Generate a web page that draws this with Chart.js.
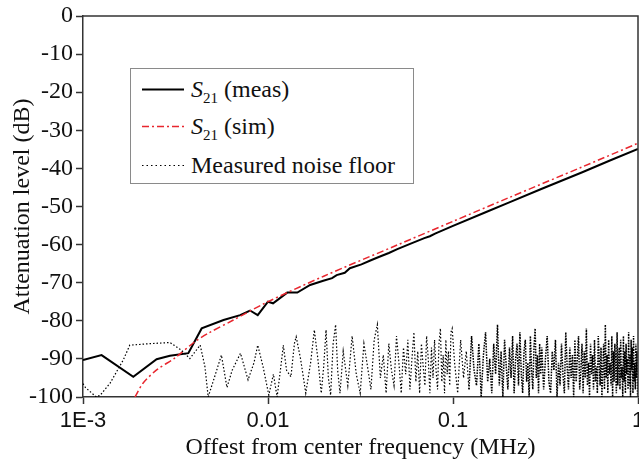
<!DOCTYPE html>
<html>
<head>
<meta charset="utf-8">
<script src="https://cdn.jsdelivr.net/npm/chart.js@4.4.1/dist/chart.umd.min.js"></script>
<style>
  html, body { margin: 0; padding: 0; background: #fff; overflow: hidden; }
  #wrap { position: relative; width: 639px; height: 466px; overflow: hidden; }
  #plot { position: absolute; left: 0; top: 0; }
  .legend { position: absolute; left: 130px; top: 68px; width: 282px; height: 114px;
            border: 1px solid #8a8a8a; background: #fff; color: #111;
            font-family: "Liberation Serif", "Times New Roman", serif; font-size: 24px; }
  .legend .row { position: absolute; left: 0; height: 30px; line-height: 30px; white-space: nowrap; }
  .legend svg { position: absolute; left: 11px; top: 14px; }
  .legend .t { position: absolute; left: 60px; top: 0; }
  .legend sub { font-size: 15px; vertical-align: -6px; line-height: 0; }
</style>
</head>
<body>
<div id="wrap">
  <canvas id="plot" width="660" height="466"></canvas>
  <div class="legend">
    <div class="row" style="top:5px">
      <svg width="42" height="3"><line x1="0" y1="1.5" x2="42" y2="1.5" stroke="#000" stroke-width="2"/></svg>
      <span class="t"><i>S</i><sub>21</sub> (meas)</span>
    </div>
    <div class="row" style="top:42px">
      <svg width="42" height="3"><line x1="0" y1="1.5" x2="42" y2="1.5" stroke="#e8262e" stroke-width="1.5" stroke-dasharray="7,3,2,3"/></svg>
      <span class="t"><i>S</i><sub>21</sub> (sim)</span>
    </div>
    <div class="row" style="top:81px">
      <svg width="42" height="3"><line x1="0" y1="1.5" x2="42" y2="1.5" stroke="#000" stroke-width="1" stroke-dasharray="1.5,3"/></svg>
      <span class="t">Measured noise floor</span>
    </div>
  </div>
</div>
<script>
  // axes
  const xTickValues = [0.001, 0.01, 0.1, 1];
  const xTickLabels = ['1E-3', '0.01', '0.1', '1'];
  const yMin = -100, yMax = 0, yStep = 10, yMinorStep = 5;

  // S21 measured
  const measFreq = [0.001, 0.00126, 0.00187, 0.0025, 0.00295, 0.00371, 0.00438, 0.00575, 0.00707, 0.008,
    0.0088, 0.01, 0.01065, 0.0127, 0.0144, 0.0169, 0.0199, 0.0222, 0.0235, 0.026, 0.0277, 0.032, 0.036,
    0.04, 0.045, 0.05, 0.06, 0.07, 0.075, 0.08, 0.1, 0.15, 0.2, 0.3, 0.5, 0.7, 1];
  const measLevel = [-90.3, -89.0, -94.7, -90.1, -89.2, -88.5, -82.0, -79.8, -78.5, -77.3,
    -78.5, -75.0, -75.4, -72.6, -72.6, -70.6, -69.5, -68.8, -68.0, -67.4, -66.2, -65.2, -64.1,
    -63.2, -62.2, -61.2, -59.6, -58.3, -57.8, -57.1, -55.1, -51.5, -49.0, -45.4, -41.0, -38.0, -34.9];

  // S21 simulated
  const simFreq = [0.00191, 0.00211, 0.0025, 0.00313, 0.00402, 0.00474, 0.0065, 0.0098, 0.02, 0.05, 0.1, 0.2, 0.5, 1];
  const simLevel = [-100, -96.4, -92.9, -89.8, -85.5, -83.3, -79.8, -75.2, -68.3, -60.1, -53.9, -47.7, -39.6, -33.4];

  // measured noise floor
  const noiseFreq = [
    0.001, 0.00103, 0.00118, 0.00124, 0.0014, 0.00165, 0.00179, 0.0023, 0.00295, 0.0034,
    0.00378, 0.0043, 0.00456, 0.00475, 0.0052, 0.0056, 0.006, 0.0064, 0.0071, 0.0078,
    0.0084, 0.0088, 0.0094, 0.0101, 0.0107, 0.0112, 0.0118, 0.0121, 0.0126, 0.0133,
    0.0139, 0.0142, 0.015, 0.016, 0.017, 0.0178, 0.0186, 0.0194, 0.02, 0.0206,
    0.0212, 0.0218, 0.0225, 0.0232, 0.0238, 0.0245,
    0.0255, 0.027, 0.0285, 0.030, 0.0315, 0.033, 0.0345, 0.036, 0.0375, 0.039,
    0.0405, 0.042, 0.0435, 0.045, 0.0465, 0.048, 0.0495, 0.051, 0.0525, 0.054,
    0.0555, 0.057, 0.0585, 0.060, 0.0615, 0.063, 0.0645, 0.066, 0.0675, 0.069,
    0.0705, 0.072, 0.0735, 0.075, 0.0765, 0.078, 0.0795, 0.081, 0.0825, 0.084,
    0.0855, 0.087, 0.0885, 0.090, 0.0915, 0.093, 0.0945, 0.096, 0.0975, 0.099,
    0.102, 0.106, 0.110, 0.114, 0.118, 0.122, 0.126, 0.130, 0.134, 0.138,
    0.142, 0.146, 0.150, 0.154, 0.158, 0.162, 0.166, 0.170, 0.174, 0.178,
    0.182, 0.186, 0.190, 0.194, 0.198, 0.202, 0.206, 0.210, 0.214, 0.218,
    0.222, 0.226, 0.230, 0.234, 0.238, 0.242, 0.246, 0.250, 0.254, 0.258,
    0.262, 0.266, 0.270, 0.274, 0.278, 0.282, 0.286, 0.290, 0.294, 0.298,
    0.302, 0.309, 0.316, 0.323, 0.330, 0.337, 0.344, 0.351, 0.358, 0.365,
    0.372, 0.379, 0.386, 0.393, 0.400, 0.407, 0.414, 0.421, 0.428, 0.435,
    0.442, 0.449, 0.456, 0.463, 0.470, 0.477, 0.484, 0.491, 0.498, 0.505,
    0.512, 0.519, 0.526, 0.533, 0.540, 0.547, 0.554, 0.561, 0.568, 0.575,
    0.582, 0.589, 0.596, 0.603, 0.610, 0.617, 0.624, 0.631, 0.638, 0.645,
    0.652, 0.659, 0.666, 0.673, 0.680, 0.687, 0.694, 0.701, 0.708, 0.715,
    0.722, 0.729, 0.736, 0.743, 0.750, 0.757, 0.764, 0.771, 0.778, 0.785,
    0.792, 0.799, 0.806, 0.813, 0.820, 0.827, 0.834, 0.841, 0.848, 0.855,
    0.862, 0.869, 0.876, 0.883, 0.890, 0.897, 0.904, 0.911, 0.918, 0.925,
    0.932, 0.939, 0.946, 0.953, 0.960, 0.967, 0.974, 0.981, 0.988, 0.995];
  const noiseLevel = [
    -96.5, -97.5, -100, -99.5, -96.4, -90.3, -86.4, -86.0, -85.7, -87.7,
    -89.9, -86.4, -92, -100, -94, -89, -97.5, -93, -88.5, -95.5,
    -91, -86.4, -92, -99.5, -94, -100, -91, -86.4, -93, -94.7,
    -85.9, -84.2, -90, -99, -91, -82.4, -90, -99, -92, -82.4,
    -95, -99.5, -86, -81, -93, -99,
    -88, -97, -84, -94, -99, -86, -92, -98, -85, -81,
    -95, -89, -99, -86, -93, -97, -84, -91, -99, -87,
    -94, -85, -98, -90, -83, -96, -88, -99, -86, -92,
    -97, -84, -90, -99, -87, -95, -85, -93, -98, -86,
    -82, -96, -89, -99, -85, -94, -88, -97, -83, -82,
    -91, -99, -85, -95, -88, -98, -84, -93, -97, -86,
    -100, -89, -83, -96, -90, -99, -86, -94, -81, -97,
    -88, -100, -85, -92, -98, -87, -95, -84, -99, -90,
    -86, -97, -83, -94, -99, -88, -85, -96, -91, -100,
    -84, -93, -98, -87, -82, -95, -89, -99, -86, -94,
    -87, -98, -90, -84, -96, -99, -88, -93, -85, -100,
    -91, -97, -86, -94, -99, -83, -92, -98, -87, -95,
    -89, -100, -85, -96, -90, -84, -98, -93, -86, -99,
    -88, -95, -82, -97, -91, -100, -86, -94, -89, -98,
    -85, -96, -92, -99, -84, -90, -97, -87, -100, -93,
    -86, -98, -81, -95, -89, -99, -85, -94, -91, -97,
    -84, -100, -88, -96, -86, -93, -99, -83, -97, -90,
    -87, -98, -85, -95, -92, -100, -84, -96, -88, -99,
    -86, -94, -90, -98, -83, -97, -89, -100, -85, -93,
    -87, -99, -84, -96, -91, -98, -86, -95, -88, -100];

  const axisColor = '#333';
  const serif = '"Liberation Serif", "Times New Roman", serif';
  const sans = '"Liberation Sans", Arial, sans-serif';

  const pts = (xs, ys) => xs.map((x, i) => ({ x: x, y: ys[i] }));
  const noPad = s => { s.paddingLeft = 0; s.paddingRight = 0; s.paddingTop = 0; s.paddingBottom = 0; };
  // the noise trace looks heavier where the sweep gets dense
  const dense = c => c.p0.parsed.x > 0.12;

  // top and right border of the plot box
  const frame = {
    id: 'frame',
    afterDatasetsDraw(chart) {
      const { ctx, chartArea: a } = chart;
      ctx.save();
      ctx.strokeStyle = axisColor;
      ctx.lineWidth = 1.5;
      ctx.beginPath();
      ctx.moveTo(a.left, a.top);
      ctx.lineTo(a.right, a.top);
      ctx.lineTo(a.right, a.bottom);
      ctx.stroke();
      ctx.restore();
    }
  };

  new Chart(document.getElementById('plot').getContext('2d'), {
    type: 'line',
    data: {
      datasets: [
        {
          label: 'Measured noise floor',
          data: pts(noiseFreq, noiseLevel),
          borderColor: '#000',
          borderWidth: 1.2,
          borderDash: [1.5, 2],
          pointRadius: 0,
          tension: 0,
          segment: {
            borderWidth: c => dense(c) ? 1.5 : 1.2,
            borderDash: c => dense(c) ? [1.6, 1.2] : [1.5, 2]
          }
        },
        {
          label: 'S21 (sim)',
          data: pts(simFreq, simLevel),
          borderColor: '#e8262e',
          borderWidth: 1.5,
          borderDash: [7, 3, 2, 3],
          pointRadius: 0,
          tension: 0.3
        },
        {
          label: 'S21 (meas)',
          data: pts(measFreq, measLevel),
          borderColor: '#000',
          borderWidth: 2,
          pointRadius: 0,
          tension: 0
        }
      ]
    },
    options: {
      responsive: false,
      animation: false,
      layout: { padding: { left: 0, top: 16, right: 22, bottom: 0 } },
      plugins: { legend: { display: false }, tooltip: { enabled: false } },
      scales: {
        x: {
          type: 'logarithmic',
          position: 'bottom',
          min: 0.001,
          max: 1,
          afterBuildTicks: s => { s.ticks = xTickValues.map(v => ({ value: v })); },
          afterFit: s => { s.height = 69; noPad(s); },
          ticks: {
            autoSkip: false,
            maxRotation: 0,
            padding: 4,
            color: '#111',
            font: { family: sans, size: 22 },
            callback: (v, i) => xTickLabels[i]
          },
          grid: { drawOnChartArea: false, tickLength: 7, color: axisColor, tickWidth: 1.5 },
          border: { color: axisColor, width: 1.5 },
          title: {
            display: true,
            text: 'Offest from center frequency (MHz)',
            color: '#111',
            font: { family: serif, size: 24 },
            padding: { top: 0, bottom: 4 }
          }
        },
        y: {
          type: 'linear',
          position: 'left',
          min: yMin,
          max: yMax,
          afterFit: s => { s.width = 83; noPad(s); },
          ticks: {
            stepSize: yStep,
            padding: 3,
            color: '#111',
            font: { family: serif, size: 24 }
          },
          grid: { drawOnChartArea: false, tickLength: 7, color: axisColor, tickWidth: 1.5 },
          border: { color: axisColor, width: 1.5 },
          title: {
            display: true,
            text: 'Attenuation level (dB)',
            color: '#111',
            font: { family: serif, size: 24 },
            padding: { top: 8, bottom: 0 }
          }
        },
        yMinor: {
          type: 'linear',
          position: 'left',
          min: yMin,
          max: yMax,
          afterFit: s => { s.width = 0; noPad(s); },
          ticks: { stepSize: yMinorStep, display: false },
          grid: { drawOnChartArea: false, tickLength: 4, color: axisColor, tickWidth: 1.2 },
          border: { display: false }
        }
      }
    },
    plugins: [frame]
  });
</script>
</body>
</html>
